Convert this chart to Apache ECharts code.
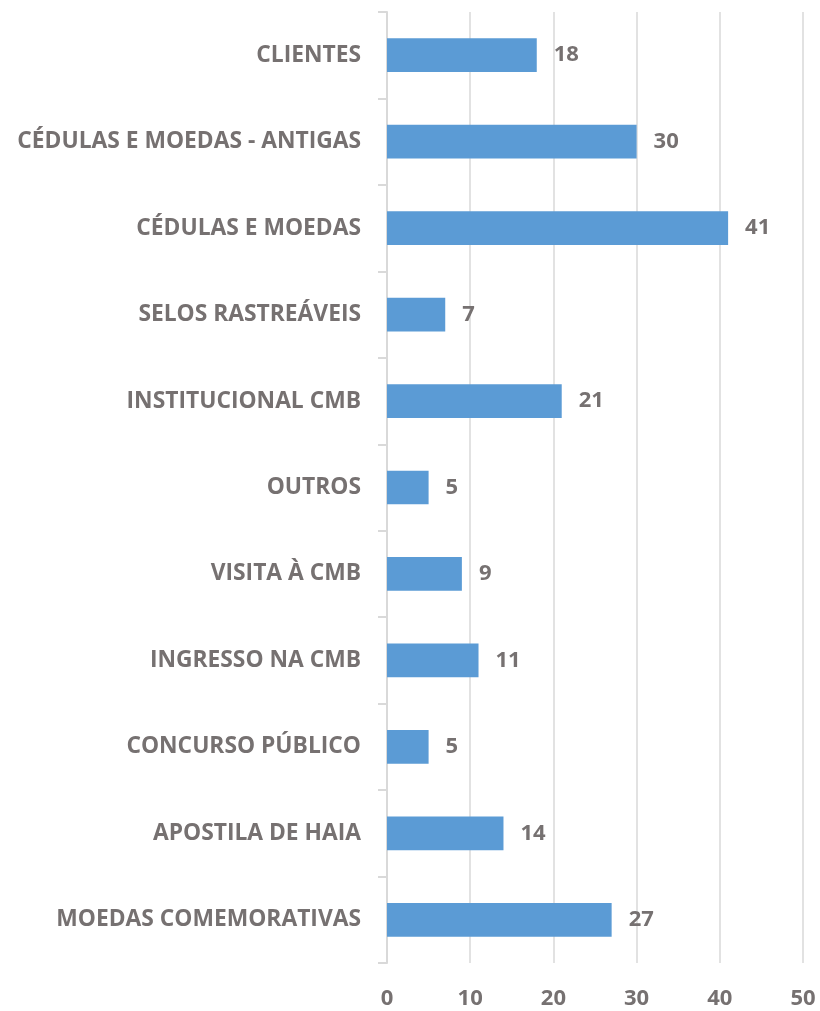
<!DOCTYPE html>
<html>
<head>
<meta charset="utf-8">
<script src="https://cdn.jsdelivr.net/npm/echarts@6/dist/echarts.min.js"></script>
<style>
  html, body { margin: 0; padding: 0; background: #fff; }
  #chart { width: 820px; height: 1011px; }
</style>
</head>
<body>
<div id="chart"></div>
<script>
var categories = ['MOEDAS COMEMORATIVAS', 'APOSTILA DE HAIA', 'CONCURSO PÚBLICO', 'INGRESSO NA CMB',
    'VISITA À CMB', 'OUTROS', 'INSTITUCIONAL CMB', 'SELOS RASTREÁVEIS', 'CÉDULAS E MOEDAS',
    'CÉDULAS E MOEDAS - ANTIGAS', 'CLIENTES'];
var values = [27, 14, 5, 11, 9, 5, 21, 7, 41, 30, 18];
var xTicks = [0, 10, 20, 30, 40, 50];

var textColor = '#767171';
var fontFam = '"Open Sans", sans-serif';

var chart = echarts.init(document.getElementById('chart'));
var option = {
    animation: false
    , grid: {
        left: 387
        , right: 17
        , top: 12
        , bottom: 48
        , containLabel: false
    }
    , xAxis: {
        type: 'value'
        , min: xTicks[0]
        , max: xTicks[xTicks.length - 1]
        , interval: 10
        , axisLine: { show: false }
        , axisTick: { show: false }
        , splitLine: {
            show: true
            , lineStyle: { color: '#D9D9D9', width: 1.5 }
        }
        , axisLabel: {
            color: textColor
            , fontSize: 22
            , fontWeight: 'bold'
            , fontFamily: fontFam
            , margin: 25
        }
    }
    , yAxis: {
        type: 'category'
        , data: categories
        , axisLine: {
            show: true
            , lineStyle: { color: '#D9D9D9', width: 2 }
        }
        , axisTick: {
            show: true
            , length: 9
            , lineStyle: { color: '#D9D9D9', width: 2 }
        }
        , axisLabel: {
            color: textColor
            , fontSize: 22.8
            , fontWeight: 'bold'
            , fontFamily: fontFam
            , margin: 26
        }
    }
    , series: [{
        type: 'bar'
        , data: values
        , barWidth: '39%'
        , itemStyle: { color: '#5B9BD5' }
        , label: {
            show: true
            , position: 'right'
            , distance: 17
            , color: textColor
            , fontSize: 22
            , fontWeight: 'bold'
            , fontFamily: fontFam
        }
    }]
};
chart.setOption(option);
</script>
</body>
</html>
